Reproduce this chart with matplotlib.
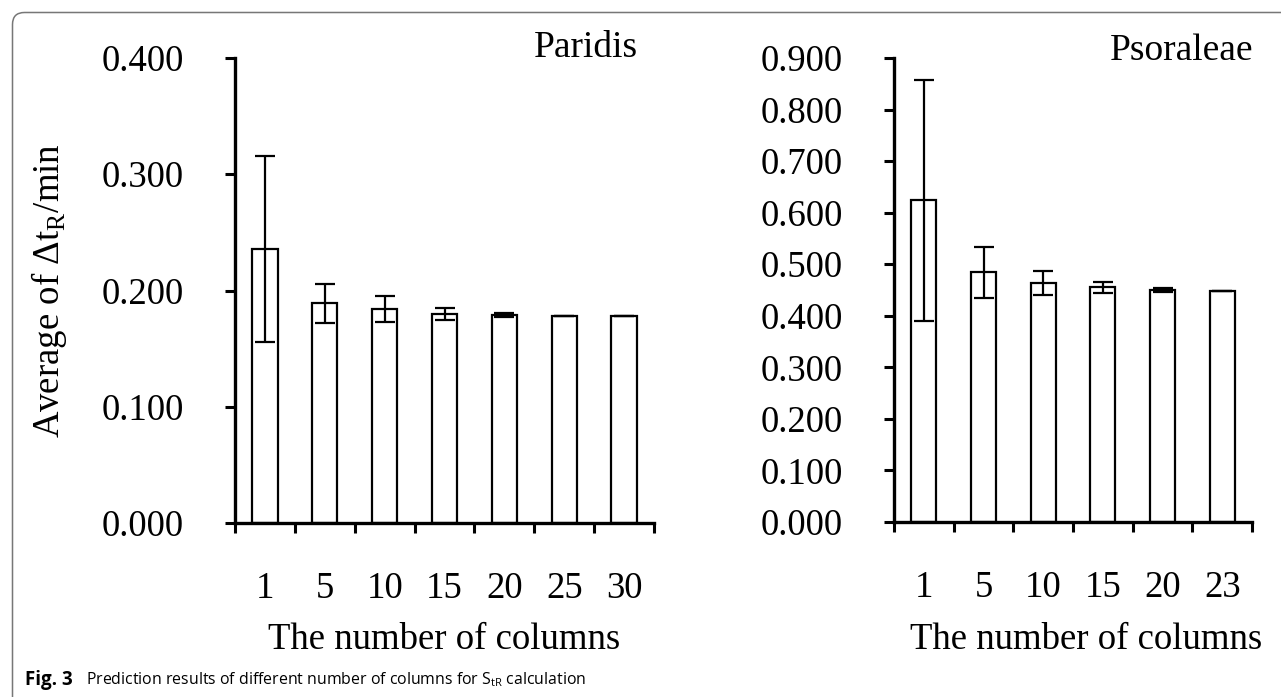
import matplotlib
matplotlib.use('Agg')
import matplotlib.pyplot as plt
from matplotlib.patches import FancyBboxPatch
from matplotlib.transforms import IdentityTransform

# data
par_cols = ['1', '5', '10', '15', '20', '25', '30']
par_mean = [0.236, 0.189, 0.184, 0.180, 0.179, 0.178, 0.178]
par_err = [0.080, 0.017, 0.011, 0.005, 0.002, 0.0, 0.0]

pso_cols = ['1', '5', '10', '15', '20', '23']
pso_mean = [0.624, 0.484, 0.463, 0.455, 0.450, 0.449]
pso_err = [0.234, 0.050, 0.023, 0.010, 0.004, 0.0]

plt.rcParams['font.family'] = ['Liberation Serif', 'DejaVu Serif']
plt.rcParams['mathtext.fontset'] = 'custom'
plt.rcParams['mathtext.rm'] = 'Liberation Serif'
plt.rcParams['mathtext.sf'] = 'Open Sans'

fig = plt.figure(figsize=(12.81, 6.97), dpi=100)

def bar_panel(rect, cols, mean, err, top, step, name, name_x, name_y):
    ax = fig.add_axes(rect)
    x = list(range(1, len(cols) + 1))
    ax.bar(x, mean, width=0.42, color='white', edgecolor='black', linewidth=1.6)
    ax.errorbar(x, mean, yerr=err, fmt='none', ecolor='black', elinewidth=1.6,
                capsize=7.5, capthick=1.6)
    ax.set_xlim(0.5, len(cols) + 0.5)
    ax.set_ylim(0, top)
    nt = int(round(top / step))
    ax.set_yticks([i * step for i in range(nt + 1)])
    ax.set_yticklabels(['%.3f' % (i * step) for i in range(nt + 1)])
    # ticks between categories, labels under the bars
    ax.set_xticks([i + 0.5 for i in range(len(cols) + 1)])
    ax.set_xticklabels([''] * (len(cols) + 1))
    ax.set_xticks(x, minor=True)
    ax.set_xticklabels(cols, minor=True)
    ax.tick_params(axis='x', which='minor', length=0, pad=35, labelsize=26.5)
    ax.tick_params(axis='both', which='major', direction='out', length=7,
                   width=2.2, labelsize=26.5)
    ax.tick_params(axis='y', pad=30)
    for s in ['top', 'right']:
        ax.spines[s].set_visible(False)
    for s in ['left', 'bottom']:
        ax.spines[s].set_linewidth(2.4)
    ax.text(name_x, name_y, name, transform=ax.transAxes, ha='right',
            va='baseline', fontsize=27)
    return ax

ax1 = bar_panel([0.1835, 0.2496, 0.327, 0.6672], par_cols, par_mean, par_err,
                0.4, 0.1, 'Paridis', 0.962, 1.002)
ax2 = bar_panel([0.6979, 0.2511, 0.2795, 0.6657], pso_cols, pso_mean, pso_err,
                0.9, 0.1, 'Psoraleae', 1.003, 0.996)

ax1.set_ylabel(r'Average of $\Delta$t$_\mathregular{R}$/min', fontsize=26.5,
               labelpad=23)
fig.text(0.347, 0.082, 'The number of columns', ha='center', va='center', fontsize=26.5)
fig.text(0.848, 0.082, 'The number of columns', ha='center', va='center', fontsize=26.5)

# caption
fig.text(25 / 1281, 1 - 680 / 697, 'Fig. 3', family='Open Sans', weight='bold',
         fontsize=13.5, va='center')
fig.text(86 / 1281, 1 - 680 / 697,
         r'Prediction results of different number of columns for S$_\mathsf{tR}$ calculation',
         family='Open Sans', fontsize=11.4, va='center')

# rounded frame, open at the bottom and right
frame = FancyBboxPatch((12.5, -30), 1400, 697 - 12.5 + 30,
                       boxstyle='round,pad=0,rounding_size=12',
                       transform=IdentityTransform(), fill=False,
                       edgecolor='#777777', linewidth=1.1)
fig.patches.append(frame)

fig.savefig('out.png', dpi=100)
